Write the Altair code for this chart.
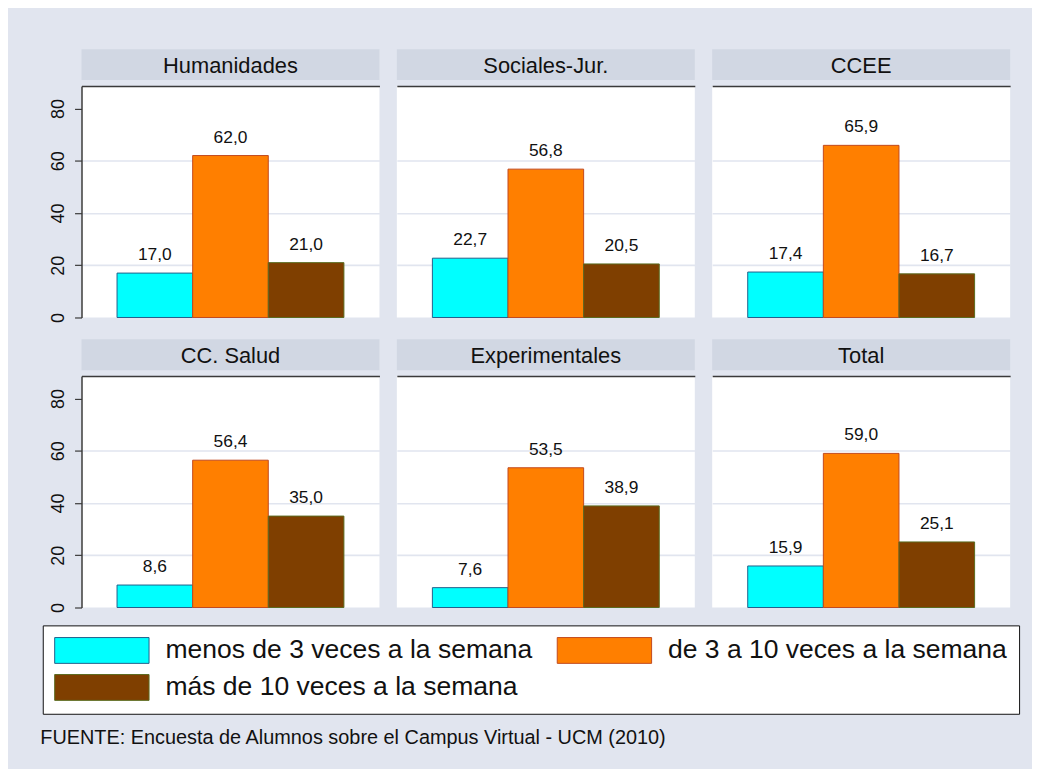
import altair as alt
import pandas as pd

panels = ["Humanidades", "Sociales-Jur.", "CCEE", "CC. Salud", "Experimentales", "Total"]
series = ["menos de 3 veces a la semana", "de 3 a 10 veces a la semana", "más de 10 veces a la semana"]
menos = [17.0, 22.7, 17.4, 8.6, 7.6, 15.9]
de3a10 = [62.0, 56.8, 65.9, 56.4, 53.5, 59.0]
mas10 = [21.0, 20.5, 16.7, 35.0, 38.9, 25.1]
y_ticks = [0, 20, 40, 60, 80]
footnote = "FUENTE: Encuesta de Alumnos sobre el Campus Virtual - UCM (2010)"

fill_colors = ["#00FFFF", "#FF7F00", "#7F3F00"]
stroke_colors = ["#22608a", "#c24a1e", "#5b6b1e"]

rows = []
for i, p in enumerate(panels):
    for s, vals in zip(series, [menos, de3a10, mas10]):
        rows.append({"panel": p, "serie": s, "valor": vals[i]})
df = pd.DataFrame(rows)
strip_df = pd.DataFrame({"panel": panels})

FONT = "Liberation Sans"
BG = "#E1E5EF"
STRIP = "#D1D7E3"
DARK = "#3a3a3a"
W, H, HS = 300, 233, 31
GRID_OP = {"condition": {"test": "datum.value >= 80 || datum.value <= 0", "value": 0}, "value": 1}


def panel(name, first):
    base = alt.Chart(df).transform_filter(alt.datum.panel == name).transform_calculate(
        label="replace(format(datum.valor, '.1f'), '.', ',')"
    )
    if first:
        yaxis = alt.Axis(values=y_ticks, labelAngle=270, labelAlign="center", labelBaseline="bottom",
                         labelFontSize=18, labelFont=FONT, labelColor="#111", labelPadding=7,
                         tickSize=7, tickColor=DARK, domainColor=DARK, domainWidth=1.5, tickWidth=1.2,
                         title=None, grid=True, gridColor=BG, gridWidth=1.6, gridOpacity=GRID_OP)
    else:
        yaxis = alt.Axis(values=y_ticks, labels=False, ticks=False, domain=False, title=None,
                         grid=True, gridColor=BG, gridWidth=1.6, gridOpacity=GRID_OP)
    x = alt.X("serie:N", sort=series,
              scale=alt.Scale(domain=series, paddingInner=0, paddingOuter=0.47),
              axis=alt.Axis(orient="top", labels=False, ticks=False, title=None, grid=False,
                            domainColor=DARK, domainWidth=1.5))
    y = alt.Y("valor:Q", scale=alt.Scale(domain=[0, 88.6], nice=False, zero=True), axis=yaxis)
    bars = base.mark_bar(strokeWidth=1, strokeOpacity=1).encode(
        x=x, y=y,
        color=alt.Color("serie:N", sort=series, title=None,
                        scale=alt.Scale(domain=series, range=fill_colors)),
        stroke=alt.Stroke("serie:N", sort=series, title=None,
                          scale=alt.Scale(domain=series, range=stroke_colors)),
    )
    labels = base.mark_text(dy=-13, baseline="alphabetic", fontSize=17.5, font=FONT, color="#111").encode(
        x=alt.X("serie:N", sort=series), y=alt.Y("valor:Q"), text="label:N"
    )
    plot = alt.layer(bars, labels).properties(width=W, height=H)
    strip = alt.Chart(strip_df, view=alt.ViewBackground(fill=STRIP, stroke=None)).transform_filter(
        alt.datum.panel == name
    ).mark_text(fontSize=22, font=FONT, color="#111", baseline="middle", align="center").encode(
        text="panel:N", x=alt.value(W / 2), y=alt.value(HS / 2 + 1)
    ).properties(width=W, height=HS)
    return alt.vconcat(strip, plot, spacing=6, bounds="flush")


row1 = alt.hconcat(*[panel(p, i == 0) for i, p in enumerate(panels[:3])], spacing=17.5)
row2 = alt.hconcat(*[panel(p, i == 0) for i, p in enumerate(panels[3:])], spacing=17.5)

chart = alt.vconcat(row1, row2, spacing=16).properties(
    background=BG,
    padding={"left": 32, "top": 39, "right": 12, "bottom": 18},
    title=alt.TitleParams(footnote, orient="bottom", anchor="start", fontSize=20, font=FONT,
                          fontWeight="normal", color="#111", offset=14, dx=-2),
).configure_view(
    fill="white", stroke=None
).configure_legend(
    orient="none", legendX=-39, legendY=580, direction="horizontal", columns=2,
    symbolType="M-1,-1H6.308V1H-1Z", symbolSize=676, symbolStrokeWidth=1,
    labelFontSize=26.7, labelFont=FONT, labelColor="#111", labelOffset=85, labelLimit=600,
    columnPadding=22, rowPadding=6.5, padding=11.5, strokeColor="#111", fillColor="white",
    symbolOpacity=1,
)

chart.save("out.html", embed_options={"renderer": "svg", "actions": False})
